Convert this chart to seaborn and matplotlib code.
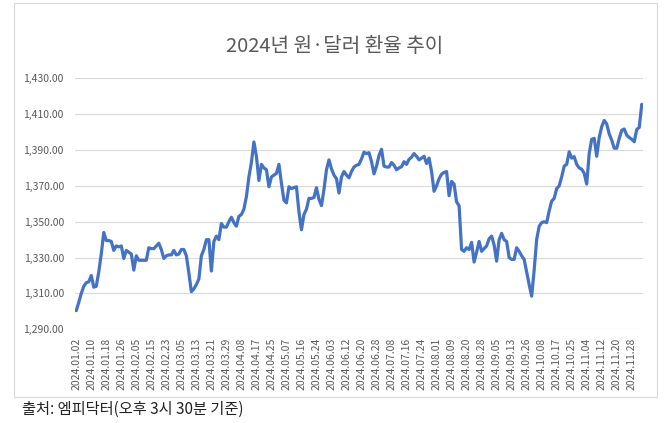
import matplotlib
matplotlib.use("Agg")
import matplotlib.pyplot as plt
import seaborn as sns
import pandas as pd
from matplotlib.ticker import FuncFormatter, FixedLocator
from matplotlib.patches import Rectangle

# ---- data ----
title = "2024년 원·달러 환율 추이"
source_note = "출처: 엠피닥터(오후 3시 30분 기준)"

rates = [
    1300.4, 1305, 1310, 1314, 1316, 1316.5, 1320, 1313.5, 1314, 1322,
    1332, 1344, 1339.5, 1339.5, 1339, 1334, 1336.5, 1336, 1336.5, 1329.5,
    1334, 1333, 1332, 1323, 1331, 1328.5, 1328.5, 1328.5, 1328.5, 1335.5,
    1335, 1335, 1336.5, 1338, 1334.5, 1329.5, 1331, 1331.5, 1331.5, 1334,
    1331.5, 1332, 1334.5, 1334.5, 1331, 1321.5, 1311, 1312.5, 1315, 1318,
    1331, 1334.5, 1340, 1340, 1322.5, 1339, 1342, 1340, 1349, 1347,
    1347, 1350, 1352.5, 1349.5, 1347.5, 1353, 1354, 1357, 1364, 1375,
    1383, 1394.5, 1386.5, 1373, 1382, 1380, 1379, 1369.5, 1375, 1376,
    1377, 1382, 1371.5, 1362, 1360.5, 1369.5, 1368.5, 1369, 1369.5, 1355.5,
    1345.5, 1354, 1357, 1363, 1363, 1363.5, 1369, 1362.5, 1359, 1368,
    1379, 1384.5, 1379.5, 1376, 1374, 1366, 1375, 1378, 1376, 1374.5,
    1378, 1380.5, 1381.5, 1382, 1385, 1388.8, 1388, 1388.5, 1383.5, 1376.7,
    1381, 1387, 1390.4, 1381, 1380.5, 1380.5, 1383, 1381.5, 1379, 1380,
    1380.7, 1383.5, 1382, 1384.8, 1386, 1388, 1386.5, 1384.5, 1385.5, 1386.5,
    1382.5, 1385.5, 1378, 1367, 1370, 1374, 1376.5, 1377.5, 1378, 1364.5,
    1372.5, 1371, 1361, 1359, 1334.5, 1333.5, 1335.5, 1334.5, 1338.5, 1327.5,
    1333, 1339, 1333.5, 1335, 1336.5, 1340.5, 1342, 1337, 1328, 1340,
    1343.5, 1340, 1339, 1330, 1329, 1329, 1335.5, 1333.5, 1331, 1329,
    1322, 1315, 1308.5, 1323, 1340, 1347.5, 1349.5, 1350, 1349.5, 1356,
    1361.5, 1363, 1368.5, 1370, 1375, 1381, 1382, 1389, 1385.5, 1386.3,
    1382, 1380, 1379.3, 1377, 1371, 1388, 1396, 1396.5, 1386.5, 1397,
    1403, 1406.5, 1404.5, 1399, 1395.5, 1391, 1391, 1396.5, 1401, 1401.7,
    1398.3, 1397, 1396, 1394.6, 1401.5, 1402.6, 1415.5,
]

tick_labels = [
    "2024.01.02", "2024.01.10", "2024.01.18", "2024.01.26", "2024.02.05",
    "2024.02.15", "2024.02.23", "2024.03.05", "2024.03.13", "2024.03.21",
    "2024.03.29", "2024.04.08", "2024.04.17", "2024.04.25", "2024.05.07",
    "2024.05.16", "2024.05.24", "2024.06.03", "2024.06.12", "2024.06.20",
    "2024.06.28", "2024.07.08", "2024.07.16", "2024.07.24", "2024.08.01",
    "2024.08.09", "2024.08.20", "2024.08.28", "2024.09.05", "2024.09.13",
    "2024.09.26", "2024.10.08", "2024.10.17", "2024.10.25", "2024.11.04",
    "2024.11.12", "2024.11.20", "2024.11.28",
]
tick_step = 6  # one label every 6 trading days

y_ticks = [1290, 1310, 1330, 1350, 1370, 1390, 1410, 1430]

df = pd.DataFrame({"idx": range(len(rates)), "rate": rates})

# ---- style ----
sns.set_theme(style="white")
plt.rcParams["font.family"] = ["Noto Sans CJK KR", "DejaVu Sans"]

fig = plt.figure(figsize=(6.7, 4.23), dpi=100)
ax = fig.add_axes([75 / 670, 1 - 329.3 / 423, (643 - 75) / 670, (329.3 - 78.3) / 423])

sns.lineplot(data=df, x="idx", y="rate", ax=ax, color="#4472C4", linewidth=2.3)

ax.set_xlim(-0.5, len(rates) - 0.5)
ax.set_ylim(y_ticks[0], y_ticks[-1])
ax.yaxis.set_major_locator(FixedLocator(y_ticks))
ax.yaxis.set_major_formatter(FuncFormatter(lambda v, p: f"{v:,.2f}"))
ax.set_xticks([i * tick_step for i in range(len(tick_labels))])
ax.set_xticklabels(tick_labels, rotation=90)

ax.grid(axis="y", color="#D9D9D9", linewidth=0.8)
ax.grid(axis="x", visible=False)
ax.set_axisbelow(True)
for s in ax.spines.values():
    s.set_visible(False)
ax.tick_params(axis="both", length=0, labelsize=7.5, colors="#595959")
ax.tick_params(axis="y", pad=8)
ax.tick_params(axis="x", pad=6)
ax.set_xlabel("")
ax.set_ylabel("")

fig.text(335 / 670, 1 - 47 / 423, title, ha="center", va="center",
         fontsize=14.5, color="#595959")

# chart frame
fig.patches.append(Rectangle((14 / 670, 1 - 397 / 423), (657 - 14) / 670, (397 - 3) / 423,
                             transform=fig.transFigure, fill=False,
                             edgecolor="#D9D9D9", linewidth=0.8))

fig.text(22 / 670, 1 - 409 / 423, source_note, ha="left", va="center",
         fontsize=11, color="#222222")

fig.savefig("out.png", dpi=100)
